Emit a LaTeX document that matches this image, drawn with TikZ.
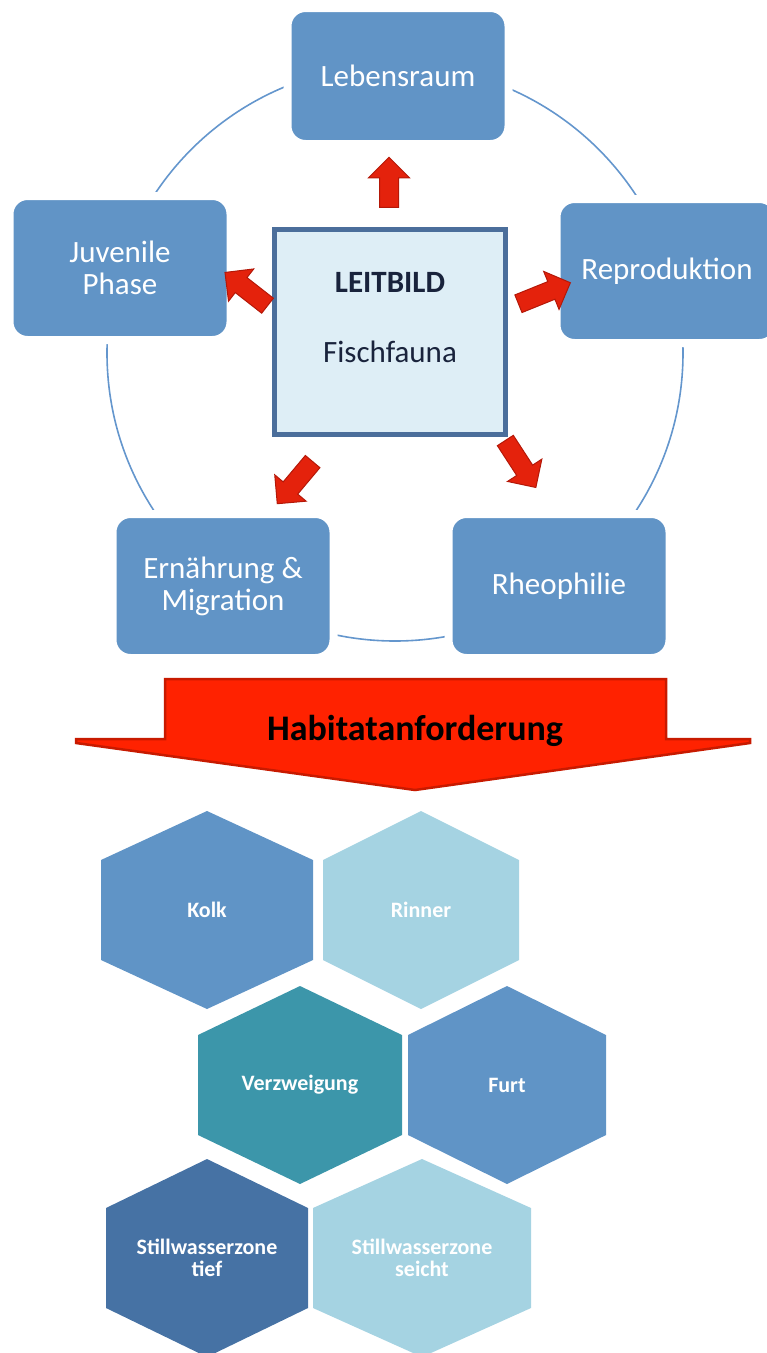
\documentclass[tikz,border=0pt]{standalone}
\usepackage{fontspec}
\setmainfont{Carlito}
\usetikzlibrary{shapes,arrows,positioning}

\definecolor{boxblue}{RGB}{97,148,198}
\definecolor{ringblue}{RGB}{100,150,205}
\definecolor{leitfill}{RGB}{222,238,246}
\definecolor{leitborder}{RGB}{75,110,155}
\definecolor{leittext}{RGB}{25,35,60}
\definecolor{arrowred}{RGB}{228,34,12}
\definecolor{arrowdark}{RGB}{180,24,8}
\definecolor{bannerred}{RGB}{255,34,0}
\definecolor{bannerdark}{RGB}{200,26,0}
\definecolor{hexblue}{RGB}{96,148,198}
\definecolor{hexlight}{RGB}{165,211,226}
\definecolor{hexteal}{RGB}{60,150,170}
\definecolor{hexdark}{RGB}{70,114,164}

\begin{document}
\begin{tikzpicture}[
        x=1pt, y=-1pt,
        aspect/.style={
            rectangle, 
            rounded corners=18pt, 
            fill=boxblue, 
            draw=white, 
            line width=8pt, 
            minimum width=221pt, 
            minimum height=144pt,
            text=white,
            align=center,
            font=\fontsize{31}{32}\selectfont
        },
        leit/.style={
            rectangle, 
            draw=leitborder, 
            fill=leitfill, 
            line width=5pt, 
            minimum width=231pt, 
            minimum height=205pt
        },
        redarrow/.style={
            single arrow, 
            fill=arrowred, 
            draw=arrowdark, 
            line width=1pt, 
            inner sep=9pt, 
            single arrow head extend=11pt, 
            single arrow head indent=0pt, 
            minimum height=#1
        },
        hexlabel/.style={
            text=white, 
            align=center, 
            font=\fontsize{22}{22}\selectfont\bfseries
        },
        ring/.style={draw=ringblue, line width=1.6pt}
    ]
        \useasboundingbox (0,0) rectangle (767,1353);
        
        % -- Kreis --
        \coordinate (ringc) at (395,353);
        \draw [ring] (ringc) circle [radius=288pt];
        
        % -- Aspekte (Nodes) --
        \node [aspect, minimum height=136pt] (leb) at (398,76) {Lebensraum};
        \node [aspect] (juv) at (120,268) {Juvenile\\Phase};
        \node [aspect] (rep) at (667,271) {Reproduktion};
        \node [aspect] (ern) at (223,586) {Ernährung \&\\Migration};
        \node [aspect] (rheo) at (559,586) {Rheophilie};
        
        % Leitbild in der Mitte
        \node [leit] (leitbild) at (390,332) {};
        \node [text=leittext, align=center, font=\fontsize{31}{32}\selectfont] (leitlabel) at ([yshift=14pt]leitbild.center) {{\bfseries LEITBILD}\\[38pt]Fischfauna};
        
        % -- Pfeile --
        \node [redarrow=50pt, rotate=90] (toleb) at (389,187) {};
        \node [redarrow=54pt, rotate=142] (tojuv) at (250,292) {};
        \node [redarrow=56pt, rotate=22] (torep) at (540,295) {};
        \node [redarrow=56pt, rotate=-57] (torheo) at (518,460) {};
        \node [redarrow=55pt, rotate=-130] (toern) at (298,479) {};
        
        % -- Habitatanforderung --
        \filldraw [fill=bannerred, draw=bannerdark, line width=2.5pt, line join=miter]
            (165,679) -- (666,679) -- (666,739) -- (750,739) -- (750,743) -- (415,790)
            -- (76,743) -- (76,739) -- (165,739) -- cycle;
        \node [font=\fontsize{36}{38}\selectfont\bfseries] (habitat) at (415,731) {Habitatanforderung};
        
        % -- Habitate (Waben) --
        \foreach \cx/\cy/\hw/\col/\txt/\nm in {
            207/910/106/hexblue/Kolk/kolk,
            421/910/98/hexlight/Rinner/rinner,
            300/1085/102/hexteal/Verzweigung/verzw,
            507/1085/99/hexblue/Furt/furt,
            207/1258/101/hexdark/{Stillwasserzone\\tief}/tief,
            422/1258/109/hexlight/{Stillwasserzone\\seicht}/seicht}
        {
            \fill [\col] (\cx,\cy-99) -- (\cx+\hw,\cy-50) -- (\cx+\hw,\cy+50)
                -- (\cx,\cy+99) -- (\cx-\hw,\cy+50) -- (\cx-\hw,\cy-50) -- cycle;
            \node [hexlabel] (\nm) at (\cx,\cy) {\txt};
        }
        
    \end{tikzpicture}
\end{document}
